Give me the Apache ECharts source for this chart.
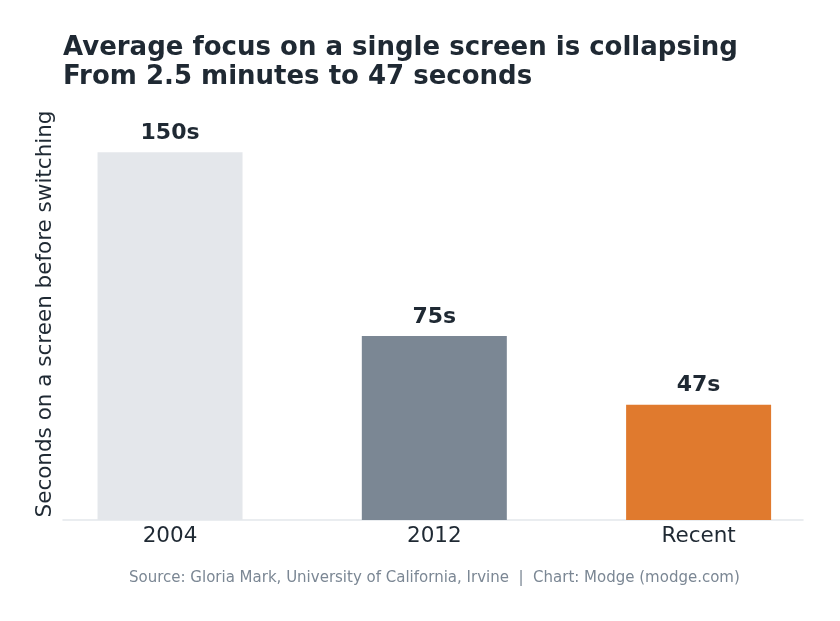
<!DOCTYPE html>
<html>
<head>
<meta charset="utf-8">
<script src="https://cdn.jsdelivr.net/npm/echarts@6/dist/echarts.min.js"></script>
<style>
  html, body { margin: 0; padding: 0; background: #fff; }
  #chart { width: 840px; height: 621px; }
</style>
</head>
<body>
<div id="chart"></div>
<script>
const categories = ['2004', '2012', 'Recent'];
const seconds = [150, 75, 47];
const barColors = ['#e4e7eb', '#7b8794', '#e07a2e'];

const font = 'DejaVu Sans';
const chart = echarts.init(document.getElementById('chart'));

chart.setOption({
  backgroundColor: '#fff',
  animation: false,
  title: {
    text: 'Average focus on a single screen is collapsing\nFrom 2.5 minutes to 47 seconds',
    left: 58,
    top: 29,
    textStyle: { fontFamily: font, fontSize: 26, fontWeight: 'bold', color: '#1f2933', lineHeight: 29 }
  },
  graphic: [{
    type: 'text',
    left: 129,
    top: 571,
    style: {
      text: 'Source: Gloria Mark, University of California, Irvine  |  Chart: Modge (modge.com)',
      fontFamily: font, fontSize: 15, fill: '#7b8794'
    }
  }],
  grid: { left: 63, right: 37, top: 108, bottom: 101 },
  xAxis: {
    type: 'value',
    min: -0.405,
    max: 2.395,
    splitLine: { show: false },
    axisTick: { show: false },
    axisLine: { show: true, lineStyle: { color: '#e4e7eb', width: 1.5 } },
    axisLabel: {
      customValues: [0, 1, 2],
      formatter: (v) => categories[Math.round(v)],
      fontFamily: font, fontSize: 21.5, color: '#1f2933', margin: 5
    }
  },
  yAxis: {
    type: 'value',
    min: 0,
    max: 168,
    name: 'Seconds on a screen before switching',
    nameLocation: 'middle',
    nameGap: 7,
    nameTextStyle: { fontFamily: font, fontSize: 21.5, color: '#1f2933' },
    axisLine: { show: false },
    axisTick: { show: false },
    axisLabel: { show: false },
    splitLine: { show: false }
  },
  series: [{
    type: 'bar',
    barWidth: 145,
    data: seconds.map((v, i) => ({ value: [i, v], itemStyle: { color: barColors[i] } })),
    label: {
      show: true,
      position: 'top',
      distance: 8,
      formatter: (p) => p.value[1] + 's',
      fontFamily: font, fontSize: 22, fontWeight: 'bold', color: '#1f2933'
    }
  }]
});
</script>
</body>
</html>
